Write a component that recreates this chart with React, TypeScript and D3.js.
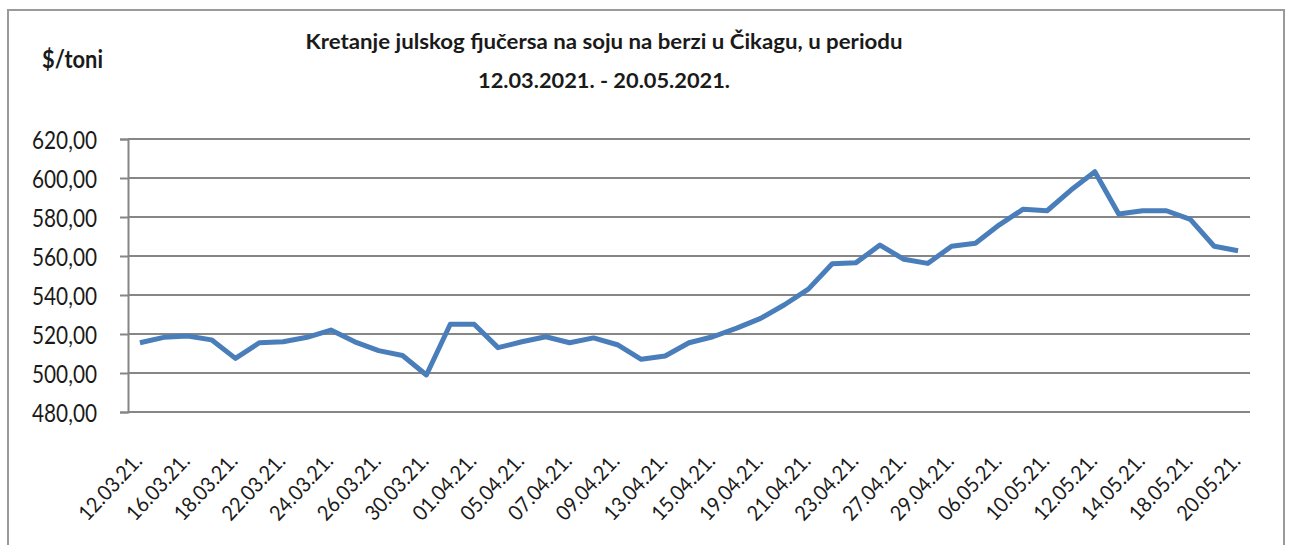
import * as d3 from "d3";
import { useEffect, useRef } from "react";

const dates = [
    "12.03.21.", "15.03.21.", "16.03.21.", "17.03.21.", "18.03.21.", "19.03.21.",
    "22.03.21.", "23.03.21.", "24.03.21.", "25.03.21.", "26.03.21.", "29.03.21.",
    "30.03.21.", "31.03.21.", "01.04.21.", "02.04.21.", "05.04.21.", "06.04.21.",
    "07.04.21.", "08.04.21.", "09.04.21.", "12.04.21.", "13.04.21.", "14.04.21.",
    "15.04.21.", "16.04.21.", "19.04.21.", "20.04.21.", "21.04.21.", "22.04.21.",
    "23.04.21.", "26.04.21.", "27.04.21.", "28.04.21.", "29.04.21.", "30.04.21.",
    "06.05.21.", "07.05.21.", "10.05.21.", "11.05.21.", "12.05.21.", "13.05.21.",
    "14.05.21.", "17.05.21.", "18.05.21.", "19.05.21.", "20.05.21.",
];

const prices = [
    515.5, 518.3, 519.0, 517.0, 507.5, 515.5, 516.0, 518.3, 522.0, 516.0, 511.5, 509.0,
    499.0, 525.0, 525.0, 513.0, 516.0, 518.6, 515.5, 518.0, 514.5, 507.0, 508.7, 515.5,
    518.6, 523.0, 528.0, 535.0, 543.0, 556.0, 556.6, 565.6, 558.3, 556.2, 565.0, 566.5,
    576.0, 584.0, 583.2, 593.8, 603.2, 581.5, 583.2, 583.2, 578.8, 565.0, 562.7,
];

const yTicks = [480, 500, 520, 540, 560, 580, 600, 620];

const titleLines = [
    "Kretanje julskog  fjučersa na soju na berzi u Čikagu, u periodu",
    "12.03.2021. - 20.05.2021.",
];
const titleWidths = [597, 252];

const unitLabel = "$/toni";

const font = "Lato, 'Open Sans', sans-serif";

export default function App() {
    const ref = useRef<SVGSVGElement | null>(null);

    useEffect(() => {
        if (!ref.current) return;
        const svg = d3.select(ref.current);
        svg.selectAll("*").remove();

        const width = 1289;
        const height = 545;
        const margin = { top: 139, right: 39, bottom: 133, left: 128 };

        svg.attr("width", width).attr("height", height);

        svg.append("rect")
            .attr("x", 8)
            .attr("y", 10)
            .attr("width", 1276)
            .attr("height", 600)
            .attr("fill", "white")
            .attr("stroke", "#9a9a9a")
            .attr("stroke-width", 2);

        const x = d3
            .scalePoint<string>()
            .domain(dates)
            .range([margin.left, width - margin.right])
            .padding(0.5);

        const y = d3
            .scaleLinear()
            .domain([480, 620])
            .range([height - margin.bottom, margin.top]);

        // gridlines
        svg.append("g")
            .selectAll("line")
            .data(yTicks)
            .join("line")
            .attr("x1", margin.left)
            .attr("x2", width - margin.right)
            .attr("y1", (d) => y(d))
            .attr("y2", (d) => y(d))
            .attr("stroke", "#868686")
            .attr("stroke-width", 2);

        // y axis
        const yAxis = svg
            .append("g")
            .attr("transform", `translate(${margin.left},0)`)
            .call(
                d3
                    .axisLeft(y)
                    .tickValues(yTicks)
                    .tickSize(8)
                    .tickPadding(23)
                    .tickFormat((d) => d3.format(".2f")(d as number).replace(".", ",")),
            );
        yAxis.select(".domain").attr("stroke", "#868686").attr("stroke-width", 2);
        yAxis.selectAll(".tick line").attr("stroke", "#868686").attr("stroke-width", 2);
        yAxis
            .selectAll(".tick text")
            .attr("font-family", font)
            .attr("font-size", 25)
            .attr("fill", "#1a1a1a")
            .attr("dy", "0.36em")
            .attr("textLength", 65)
            .attr("lengthAdjust", "spacingAndGlyphs");

        // x labels, every other category
        const xAxis = svg
            .append("g")
            .attr("transform", `translate(0,${height - margin.bottom})`)
            .call(
                d3
                    .axisBottom(x)
                    .tickValues(dates.filter((_, i) => i % 2 === 0))
                    .tickSize(0)
                    .tickPadding(0),
            );
        xAxis.select(".domain").remove();
        xAxis
            .selectAll<SVGTextElement, string>(".tick text")
            .attr("font-family", font)
            .attr("font-size", 21)
            .attr("fill", "#1a1a1a")
            .attr("text-anchor", "end")
            .attr("y", 0)
            .attr("dy", 0)
            .attr("textLength", 82)
            .attr("lengthAdjust", "spacingAndGlyphs")
            .attr("transform", "translate(3,50) rotate(-47)");

        const line = d3
            .line<number>()
            .x((_, i) => x(dates[i])!)
            .y((d) => y(d));

        svg.append("path")
            .datum(prices)
            .attr("fill", "none")
            .attr("stroke", "#4a7ebb")
            .attr("stroke-width", 5)
            .attr("stroke-linejoin", "round")
            .attr("d", line);

        svg.append("text")
            .attr("x", 42)
            .attr("y", 68)
            .attr("font-family", font)
            .attr("font-size", 24)
            .attr("font-weight", "bold")
            .attr("fill", "#1a1a1a")
            .attr("textLength", 61)
            .attr("lengthAdjust", "spacingAndGlyphs")
            .text(unitLabel);

        svg.append("g")
            .selectAll("text")
            .data(titleLines)
            .join("text")
            .attr("x", 604)
            .attr("y", (_, i) => 49 + i * 39)
            .attr("text-anchor", "middle")
            .attr("font-family", font)
            .attr("font-size", 21)
            .attr("font-weight", "bold")
            .attr("fill", "#1a1a1a")
            .attr("textLength", (_, i) => titleWidths[i])
            .attr("lengthAdjust", "spacingAndGlyphs")
            .text((d) => d);
    }, []);

    return (
        <svg
            ref={ref}
            style={{ position: "absolute", left: 0, top: 0, display: "block" }}
        ></svg>
    );
}
